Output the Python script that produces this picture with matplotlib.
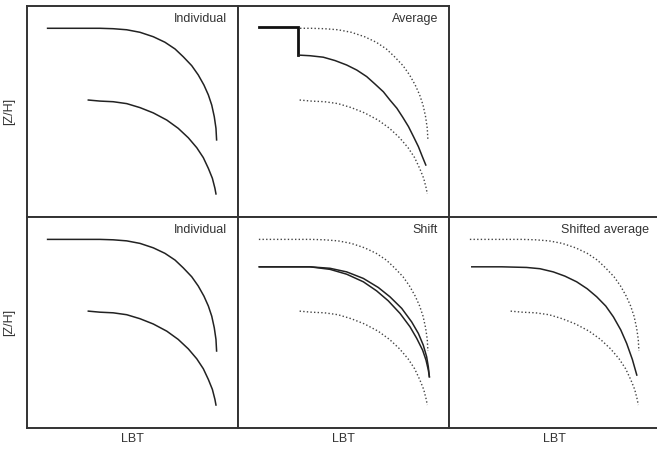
import matplotlib
matplotlib.use("Agg")
import matplotlib.pyplot as plt

plt.rcParams['font.family'] = ['Liberation Sans', 'DejaVu Sans']

# individual tracks (arbitrary units, panel spans 0-100 in both directions)
hi_x = [9.9, 25.3, 29.4, 34.7, 41.0, 47.4, 53.7, 60.0, 65.5, 70.3, 74.2, 78.2,
        81.3, 84.0, 86.1, 87.7, 88.9, 89.7, 90.0]
hi_y = [89.2, 89.2, 89.2, 89.2, 89.0, 88.5, 87.3, 85.2, 82.6, 79.4, 75.7, 71.5,
        67.1, 62.3, 57.6, 52.8, 47.3, 41.8, 36.3]
lo_x = [29.2, 34.7, 41.0, 47.4, 53.7, 60.0, 66.4, 71.8, 76.6, 80.6, 83.7, 86.1,
        88.0, 89.2, 89.7]
lo_y = [55.2, 54.7, 54.4, 53.5, 51.6, 49.1, 45.7, 41.8, 37.3, 32.6, 27.9, 22.8,
        18.1, 13.4, 10.7]

# plain average (step where only one track exists)
avg_x = [9.8, 28.6, 28.6, 34.1, 40.4, 46.0, 51.5, 56.3, 61.0, 64.9, 68.9, 72.0,
         75.3, 78.1, 80.8, 83.2, 85.5, 87.4, 89.0]
avg_y = [89.7, 89.7, 76.5, 76.2, 75.5, 73.9, 71.8, 69.4, 66.3, 62.8, 59.1, 55.2,
         51.3, 47.0, 42.6, 37.8, 33.1, 28.3, 24.4]

# tracks after shifting
sh1_x = [10.1, 24.6, 34.1, 43.6, 51.5, 59.4, 66.5, 72.0, 77.6, 82.3, 85.5, 87.8,
         89.4, 90.2, 90.7]
sh1_y = [76.2, 76.2, 76.2, 75.5, 73.8, 70.7, 66.4, 62.0, 56.5, 50.1, 44.6, 39.1,
         33.6, 28.8, 24.1]
sh2_x = [10.1, 24.6, 34.1, 43.6, 51.5, 59.4, 65.7, 71.2, 76.8, 81.5, 84.7, 87.5,
         89.1, 90.2, 90.7]
sh2_y = [76.2, 76.2, 76.2, 75.0, 72.7, 69.1, 64.8, 60.1, 54.1, 47.8, 42.3, 36.7,
         32.0, 27.3, 24.1]

# average of shifted tracks
savg_x = [10.8, 25.0, 36.8, 43.1, 49.4, 54.9, 60.5, 65.5, 70.0, 74.3, 77.9, 81.4,
          84.2, 86.9, 89.0]
savg_y = [76.2, 76.2, 75.9, 75.3, 73.8, 71.8, 69.1, 65.8, 62.0, 57.6, 52.5, 46.3,
          39.9, 32.3, 24.9]

line_c = '#222222'
txt_c = '#333333'
dot = dict(color='#444444', lw=1.0, ls=(0, (1, 1.6)))
solid = dict(color=line_c, lw=1.1)

fig = plt.figure(figsize=(6.57, 4.49), dpi=100)

W = 211 / 657
H = 211 / 449
lefts = [26.7 / 657, 238 / 657, 449 / 657]
bottoms = [1 - 216.5 / 449, 1 - 427.6 / 449]


def make_ax(col, row):
    ax = fig.add_axes([lefts[col], bottoms[row], W, H])
    ax.set_xlim(0, 100)
    ax.set_ylim(0, 100)
    ax.set_xticks([])
    ax.set_yticks([])
    for s in ax.spines.values():
        s.set_color('#333333')
        s.set_linewidth(1.4)
    return ax


def label(ax, txt):
    ax.text(0.948, 0.965, txt, transform=ax.transAxes, ha='right', va='top',
            fontsize=9, color=txt_c)


# top row
ax = make_ax(0, 0)
ax.plot(hi_x, hi_y, **solid)
ax.plot(lo_x, lo_y, **solid)
label(ax, 'Individual')
ax.set_ylabel('[Z/H]', fontsize=9, color=txt_c, labelpad=8)

ax = make_ax(1, 0)
ax.plot(hi_x[2:], hi_y[2:], **dot)
ax.plot(lo_x, lo_y, **dot)
ax.plot(avg_x[:3], avg_y[:3], color='#111111', lw=2.0, solid_joinstyle='miter')
ax.plot(avg_x[2:], avg_y[2:], **solid)
label(ax, 'Average')

# bottom row
ax = make_ax(0, 1)
ax.plot(hi_x, hi_y, **solid)
ax.plot(lo_x, lo_y, **solid)
label(ax, 'Individual')
ax.set_ylabel('[Z/H]', fontsize=9, color=txt_c, labelpad=8)
ax.set_xlabel('LBT', fontsize=9, color=txt_c, labelpad=4)

ax = make_ax(1, 1)
ax.plot(hi_x, hi_y, **dot)
ax.plot(lo_x, lo_y, **dot)
ax.plot(sh1_x, sh1_y, **solid)
ax.plot(sh2_x, sh2_y, **solid)
label(ax, 'Shift')
ax.set_xlabel('LBT', fontsize=9, color=txt_c, labelpad=4)

ax = make_ax(2, 1)
ax.plot(hi_x, hi_y, **dot)
ax.plot(lo_x, lo_y, **dot)
ax.plot(savg_x, savg_y, **solid)
label(ax, 'Shifted average')
ax.set_xlabel('LBT', fontsize=9, color=txt_c, labelpad=4)

fig.savefig('out.png', dpi=100)
